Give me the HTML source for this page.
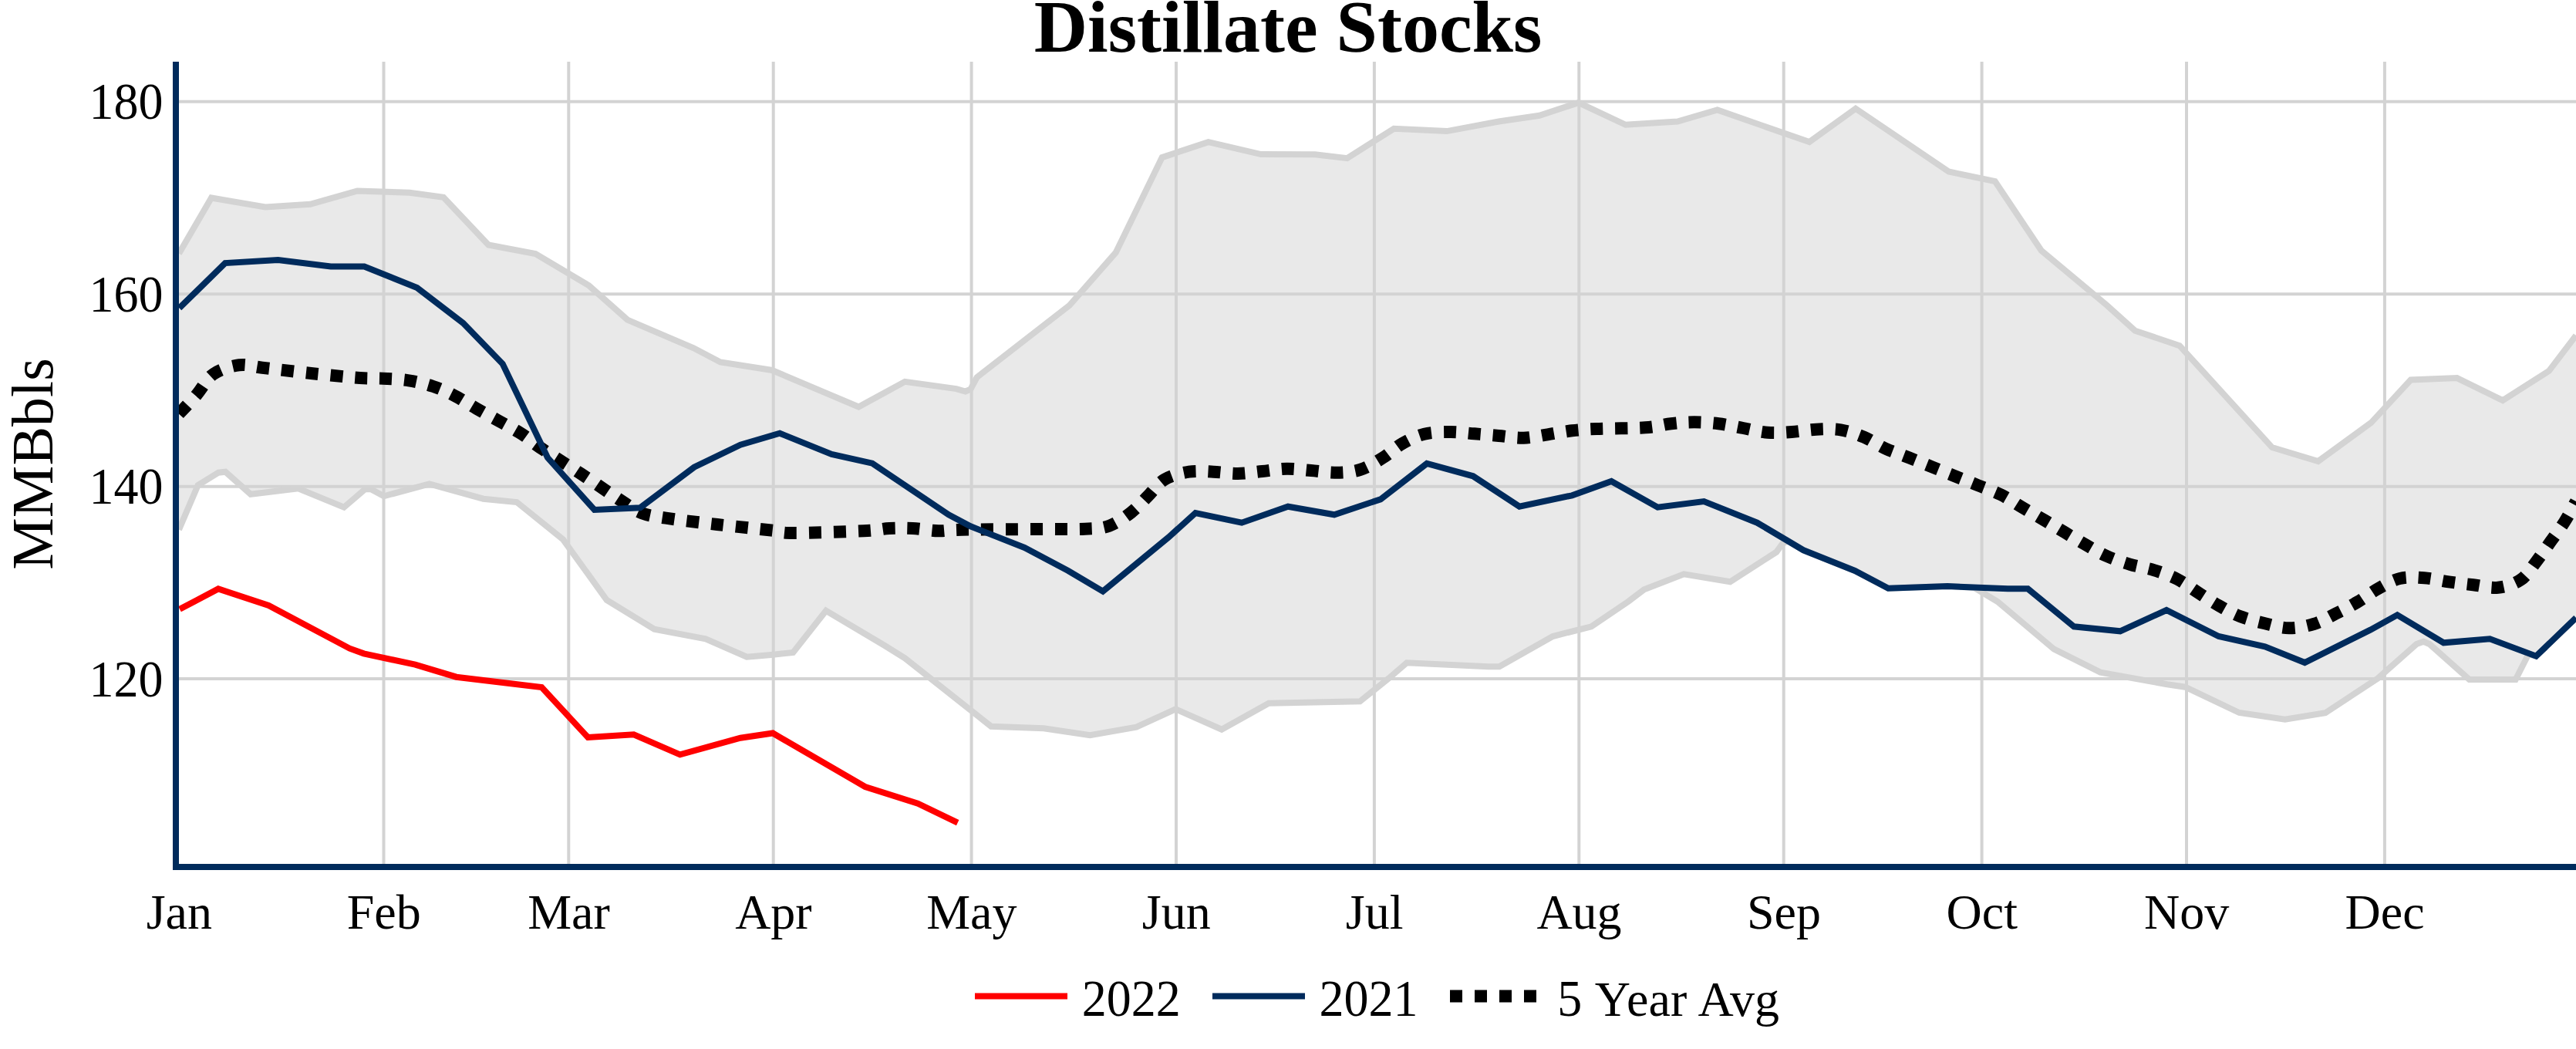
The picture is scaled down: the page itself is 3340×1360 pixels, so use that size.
<!DOCTYPE html>
<html lang="en">
<head>
<meta charset="utf-8">
<title>Distillate Stocks</title>
<style>
html,body{margin:0;padding:0;background:#fff;}
body{width:3340px;height:1360px;overflow:hidden;}
svg{display:block;}
text{font-family:"Liberation Serif",serif;fill:#000;}
.tick{font-size:64px;}
.ttl{font-size:96px;font-weight:bold;}
.ytitle{font-size:76px;}
.grid{stroke:#d3d3d3;stroke-width:4;fill:none;}
</style>
</head>
<body>
<svg width="3340" height="1360" viewBox="0 0 3340 1360">
<rect x="0" y="0" width="3340" height="1360" fill="#ffffff"/>
<defs><clipPath id="plotclip"><rect x="232" y="80" width="3108" height="1040"/></clipPath></defs>

<g class="grid">
<path d="M497.5,80V1120"/>
<path d="M737.3,80V1120"/>
<path d="M1002.7,80V1120"/>
<path d="M1259.6,80V1120"/>
<path d="M1525.0,80V1120"/>
<path d="M1781.9,80V1120"/>
<path d="M2047.3,80V1120"/>
<path d="M2312.7,80V1120"/>
<path d="M2569.6,80V1120"/>
<path d="M2835.0,80V1120"/>
<path d="M3091.9,80V1120"/>
<path d="M232,131.8H3340"/>
<path d="M232,381.2H3340"/>
<path d="M232,630.7H3340"/>
<path d="M232,880.0H3340"/>
</g>
<g clip-path="url(#plotclip)">
<path d="M232.0,328.8L274.0,256.5L344.0,268.5L402.3,264.8L463.3,247.5L531.0,249.8L575.0,255.8L633.3,317.5L694.3,329.1L763.3,370.1L813.5,414.6L899.4,451.3L934.0,469.5L1001.0,480.0L1113.3,527.5L1173.3,494.8L1240.0,504.1L1251.7,507.5L1258.3,504.8L1266.7,489.1L1386.7,395.8L1446.7,327.5L1506.7,204.1L1566.7,184.1L1635.0,200.1L1705.0,200.3L1746.7,205.1L1807.3,166.8L1876.0,170.1L1943.3,157.5L1996.0,149.8L2046.7,133.1L2107.7,161.8L2175.0,157.5L2226.7,142.5L2346.0,184.1L2406.0,140.8L2526.7,222.5L2586.7,235.1L2646.7,324.8L2731.7,395.8L2768.3,428.8L2826.0,448.1L2946.0,580.1L3005.7,598.1L3074.3,548.1L3125.7,492.5L3185.7,490.1L3245.0,519.1L3305.0,480.8L3340.0,434.8L3340.0,801.0L3288.3,850.7L3278.3,848.3L3261.7,881.0L3201.7,881.0L3150.0,835.0L3142.3,831.7L3133.3,835.0L3083.3,879.3L3015.0,924.3L2962.7,932.7L2903.3,924.0L2833.3,890.7L2810.0,887.3L2723.3,871.7L2663.3,841.7L2590.0,780.0L2560.0,762.0L2525.0,760.0L2448.3,762.7L2405.0,740.0L2338.3,713.3L2318.0,701.0L2311.0,705.0L2303.3,715.7L2243.3,754.3L2183.3,744.3L2131.7,764.3L2111.0,780.0L2063.3,812.3L2013.3,825.0L1944.0,864.3L1930.0,864.3L1824.0,859.3L1800.0,880.0L1763.3,909.3L1645.0,911.7L1584.0,945.7L1524.3,919.3L1473.3,942.7L1413.3,953.3L1353.3,944.3L1285.0,941.7L1173.3,853.3L1146.7,836.7L1071.0,791.7L1028.3,846.0L1000.0,849.0L968.3,851.7L915.0,828.3L848.3,815.7L786.7,778.0L730.0,699.3L670.0,651.0L626.7,646.7L556.7,627.3L497.7,643.3L481.0,634.3L473.3,634.3L446.0,657.7L386.7,633.3L325.0,640.7L292.3,611.7L283.3,612.7L256.7,629.0L232.0,686.7Z" fill="rgb(211,211,211)" fill-opacity="0.5" stroke="none"/>
<path d="M232.0,328.8L274.0,256.5L344.0,268.5L402.3,264.8L463.3,247.5L531.0,249.8L575.0,255.8L633.3,317.5L694.3,329.1L763.3,370.1L813.5,414.6L899.4,451.3L934.0,469.5L1001.0,480.0L1113.3,527.5L1173.3,494.8L1240.0,504.1L1251.7,507.5L1258.3,504.8L1266.7,489.1L1386.7,395.8L1446.7,327.5L1506.7,204.1L1566.7,184.1L1635.0,200.1L1705.0,200.3L1746.7,205.1L1807.3,166.8L1876.0,170.1L1943.3,157.5L1996.0,149.8L2046.7,133.1L2107.7,161.8L2175.0,157.5L2226.7,142.5L2346.0,184.1L2406.0,140.8L2526.7,222.5L2586.7,235.1L2646.7,324.8L2731.7,395.8L2768.3,428.8L2826.0,448.1L2946.0,580.1L3005.7,598.1L3074.3,548.1L3125.7,492.5L3185.7,490.1L3245.0,519.1L3305.0,480.8L3340.0,434.8" fill="none" stroke="#d3d3d3" stroke-width="8" stroke-linejoin="miter"/>
<path d="M232.0,686.7L256.7,629.0L283.3,612.7L292.3,611.7L325.0,640.7L386.7,633.3L446.0,657.7L473.3,634.3L481.0,634.3L497.7,643.3L556.7,627.3L626.7,646.7L670.0,651.0L730.0,699.3L786.7,778.0L848.3,815.7L915.0,828.3L968.3,851.7L1000.0,849.0L1028.3,846.0L1071.0,791.7L1146.7,836.7L1173.3,853.3L1285.0,941.7L1353.3,944.3L1413.3,953.3L1473.3,942.7L1524.3,919.3L1584.0,945.7L1645.0,911.7L1763.3,909.3L1800.0,880.0L1824.0,859.3L1930.0,864.3L1944.0,864.3L2013.3,825.0L2063.3,812.3L2111.0,780.0L2131.7,764.3L2183.3,744.3L2243.3,754.3L2303.3,715.7L2311.0,705.0L2318.0,701.0L2338.3,713.3L2405.0,740.0L2448.3,762.7L2525.0,760.0L2560.0,762.0L2590.0,780.0L2663.3,841.7L2723.3,871.7L2810.0,887.3L2833.3,890.7L2903.3,924.0L2962.7,932.7L3015.0,924.3L3083.3,879.3L3133.3,835.0L3142.3,831.7L3150.0,835.0L3201.7,881.0L3261.7,881.0L3278.3,848.3L3288.3,850.7L3340.0,801.0" fill="none" stroke="#d3d3d3" stroke-width="8" stroke-linejoin="miter"/>
<path d="M232.0,536.7C235.8,532.5 247.6,520.3 255.0,511.7C262.4,503.1 267.5,491.4 276.7,485.0C285.9,478.6 299.4,474.7 310.0,473.3C320.6,471.9 324.4,474.9 340.0,476.7C355.6,478.5 382.2,481.8 403.3,484.0C424.4,486.2 451.1,488.9 466.7,490.0C482.3,491.1 486.1,490.1 496.7,490.7C507.2,491.2 519.2,491.6 530.0,493.3C540.8,495.0 551.7,497.7 561.7,501.0C571.7,504.3 580.6,508.5 590.0,513.3C599.4,518.1 604.4,522.1 618.3,530.0C632.2,537.9 659.7,552.4 673.3,560.7C686.9,569.0 686.7,571.1 700.0,580.0C713.3,588.9 735.5,602.6 753.3,614.3C771.1,626.0 793.6,641.5 806.7,650.0C819.8,658.5 822.3,661.4 831.7,665.0C841.1,668.6 846.9,669.2 863.3,671.7C879.7,674.2 907.2,677.4 930.0,680.0C952.8,682.6 983.6,685.7 1000.0,687.5C1016.4,689.3 1008.3,690.9 1028.3,691.0C1048.3,691.1 1099.2,689.3 1120.0,688.3C1140.8,687.3 1142.8,685.5 1153.3,685.0C1163.8,684.5 1172.7,684.5 1183.3,685.0C1193.9,685.5 1206.1,688.0 1216.7,688.3C1227.3,688.6 1225.6,687.1 1246.7,686.7C1267.8,686.3 1316.6,686.2 1343.3,686.0C1370.0,685.8 1390.9,686.4 1406.7,685.7C1422.5,685.0 1428.3,685.3 1438.3,681.7C1448.3,678.1 1458.4,670.7 1466.7,664.3C1475.0,657.9 1481.1,650.4 1488.3,643.3C1495.5,636.2 1501.1,627.0 1510.0,621.7C1518.9,616.4 1531.2,613.4 1541.7,611.7C1552.2,610.0 1562.8,611.3 1573.3,611.7C1583.8,612.1 1594.4,614.1 1605.0,614.0C1615.6,613.9 1626.2,612.0 1636.7,611.0C1647.2,610.0 1657.8,607.9 1668.3,607.7C1678.8,607.5 1689.4,609.2 1700.0,610.0C1710.6,610.8 1721.2,612.9 1731.7,612.7C1742.2,612.5 1753.0,612.2 1763.3,609.0C1773.6,605.8 1784.1,599.0 1793.3,593.3C1802.5,587.6 1809.4,580.1 1818.3,575.0C1827.2,569.9 1836.4,565.2 1846.7,562.7C1857.0,560.2 1869.2,560.1 1880.0,560.0C1890.8,559.9 1901.2,561.5 1911.7,562.3C1922.2,563.1 1932.6,564.1 1943.3,565.0C1954.0,565.9 1965.1,568.0 1975.7,567.7C1986.3,567.4 1996.3,564.9 2006.7,563.3C2017.1,561.7 2027.8,559.5 2038.3,558.3C2048.8,557.1 2054.2,556.7 2070.0,556.0C2085.8,555.3 2117.2,555.4 2133.3,554.3C2149.4,553.2 2156.1,550.5 2166.7,549.3C2177.3,548.1 2186.4,547.3 2196.7,547.3C2207.0,547.3 2217.8,548.0 2228.3,549.3C2238.9,550.6 2249.4,553.1 2260.0,555.0C2270.6,556.9 2281.1,559.9 2291.7,560.7C2302.2,561.5 2312.8,560.7 2323.3,560.0C2333.9,559.3 2344.4,557.2 2355.0,556.7C2365.6,556.2 2376.4,555.6 2386.7,557.3C2397.0,559.0 2407.0,562.6 2416.7,566.7C2426.4,570.8 2435.3,577.3 2445.0,581.7C2454.7,586.1 2460.3,587.5 2475.0,593.3C2489.7,599.1 2518.3,610.7 2533.3,616.7C2548.3,622.7 2554.7,625.1 2565.0,629.3C2575.3,633.5 2585.6,637.0 2595.0,641.7C2604.4,646.4 2612.5,652.3 2621.7,657.7C2630.9,663.1 2636.1,665.8 2650.0,674.0C2663.9,682.2 2691.4,698.9 2705.0,706.7C2718.6,714.5 2722.2,716.8 2731.7,721.0C2741.1,725.2 2751.4,728.7 2761.7,731.7C2772.0,734.8 2783.0,736.1 2793.3,739.3C2803.6,742.5 2813.9,746.2 2823.3,751.0C2832.8,755.8 2841.1,762.6 2850.0,768.3C2858.9,774.0 2867.5,779.8 2876.7,785.0C2885.9,790.2 2895.0,795.4 2905.0,799.3C2915.0,803.2 2926.2,805.8 2936.7,808.3C2947.1,810.8 2957.1,814.2 2967.7,814.3C2978.2,814.4 2989.9,812.1 3000.0,809.0C3010.1,805.9 3018.9,800.5 3028.3,795.7C3037.8,791.0 3047.5,785.9 3056.7,780.5C3065.9,775.1 3074.1,768.4 3083.3,763.3C3092.5,758.2 3101.7,752.3 3111.7,750.0C3121.7,747.7 3132.8,748.6 3143.3,749.3C3153.9,750.0 3164.4,752.8 3175.0,754.3C3185.6,755.8 3196.0,757.1 3206.7,758.3C3217.4,759.5 3228.7,762.8 3239.0,761.7C3249.3,760.6 3260.1,757.3 3268.3,751.7C3276.5,746.1 3281.9,736.5 3288.3,728.3C3294.7,720.1 3300.6,711.3 3306.7,702.7C3312.8,694.1 3319.4,685.5 3325.0,676.7C3330.6,667.9 3337.5,654.5 3340.0,650.0" fill="none" stroke="#000000" stroke-width="16" stroke-dasharray="15.96,15.96" stroke-dashoffset="0"/>
<path d="M232.5,399.4L291.9,341.1L360.5,337.0L428.9,345.5L472.3,345.5L540.7,373.0L600.4,418.8L651.7,471.7L710.0,593.3L770.7,661.0L830.0,658.3L900.0,605.7L960.0,576.7L1011.0,561.7L1078.3,589.0L1131.0,600.7L1230.0,667.3L1258.3,682.3L1328.3,710.0L1385.0,740.0L1430.0,766.7L1515.0,696.7L1550.0,665.0L1610.0,677.7L1670.0,656.7L1730.0,667.3L1790.0,647.3L1850.0,601.0L1910.0,617.3L1970.0,656.7L2038.3,642.3L2089.3,624.0L2149.3,657.7L2209.3,650.0L2278.3,677.7L2338.3,713.3L2405.0,740.0L2448.3,762.7L2525.0,760.0L2603.3,763.3L2629.3,763.3L2689.0,812.3L2749.0,818.3L2809.0,791.0L2876.7,825.0L2936.7,838.3L2988.3,859.0L3073.3,816.7L3108.3,797.3L3168.3,833.3L3228.3,828.3L3288.3,850.7L3340.0,801.0" fill="none" stroke="#002b5c" stroke-width="8" stroke-linejoin="miter"/>
<path d="M233.0,789.8L283.0,763.4L348.3,785.0L453.3,840.7L471.7,847.3L538.3,861.7L591.7,877.7L702.3,891.0L762.3,956.0L821.7,952.3L881.7,978.3L960.0,956.7L1002.0,950.5L1121.7,1020.0L1190.0,1041.7L1241.7,1066.7" fill="none" stroke="#ff0000" stroke-width="8" stroke-linejoin="miter"/>
</g>
<path d="M228,80V1128" stroke="#002b5c" stroke-width="8" fill="none"/>
<path d="M224,1124H3340" stroke="#002b5c" stroke-width="8" fill="none"/>
<text class="tick" x="232.3" y="1204.3" text-anchor="middle">Jan</text>
<text class="tick" x="497.7" y="1204.3" text-anchor="middle">Feb</text>
<text class="tick" x="737.5" y="1204.3" text-anchor="middle">Mar</text>
<text class="tick" x="1002.9" y="1204.3" text-anchor="middle">Apr</text>
<text class="tick" x="1259.8" y="1204.3" text-anchor="middle">May</text>
<text class="tick" x="1525.2" y="1204.3" text-anchor="middle">Jun</text>
<text class="tick" x="1782.1" y="1204.3" text-anchor="middle">Jul</text>
<text class="tick" x="2047.5" y="1204.3" text-anchor="middle">Aug</text>
<text class="tick" x="2312.9" y="1204.3" text-anchor="middle">Sep</text>
<text class="tick" x="2569.8" y="1204.3" text-anchor="middle">Oct</text>
<text class="tick" x="2835.2" y="1204.3" text-anchor="middle">Nov</text>
<text class="tick" x="3092.1" y="1204.3" text-anchor="middle">Dec</text>
<text class="tick" transform="translate(211.5,154.4) scale(1,1.05)" text-anchor="end">180</text>
<text class="tick" transform="translate(211.5,403.8) scale(1,1.05)" text-anchor="end">160</text>
<text class="tick" transform="translate(211.5,653.3) scale(1,1.05)" text-anchor="end">140</text>
<text class="tick" transform="translate(211.5,902.6) scale(1,1.05)" text-anchor="end">120</text>
<text class="ytitle" transform="translate(67.8,601.5) rotate(-90)" text-anchor="middle">MMBbls</text>
<text class="ttl" x="1670" y="66.8" text-anchor="middle">Distillate Stocks</text>
<path d="M1264,1291.4H1384" stroke="#ff0000" stroke-width="8" fill="none"/>
<text class="tick" transform="translate(1402.8,1317.2) scale(1,1.05)">2022</text>
<path d="M1572,1291.4H1692" stroke="#002b5c" stroke-width="8" fill="none"/>
<text class="tick" transform="translate(1710.5,1317.2) scale(1,1.05)">2021</text>
<path d="M1880,1291.4H2000" stroke="#000000" stroke-width="16" stroke-dasharray="16,16" fill="none"/>
<text class="tick" transform="translate(2019.3,1317.2) scale(1,1.05)">5</text>
<text class="tick" x="2067.8" y="1317.2" dx="0 1.5 0 0 0 1.7 0 0">Year Avg</text>
</svg>
</body>
</html>
